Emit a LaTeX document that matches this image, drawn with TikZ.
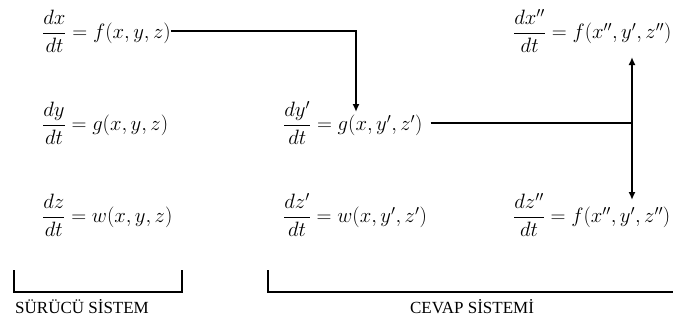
\documentclass[tikz,border=0pt]{standalone}
\usepackage{amsmath}
\usepackage{fontspec}
\setmainfont{Liberation Serif}
\usetikzlibrary{arrows.meta}

\tikzset{
  eq/.style={anchor=west, inner sep=0pt, font=\fontsize{21}{25}\selectfont},
  caption/.style={anchor=west, inner sep=0pt, font=\fontsize{17}{20}\selectfont},
  link/.style={line width=1.6pt},
  bracket/.style={line width=2.6pt},
}

\begin{document}
\begin{tikzpicture}[x=1pt, y=-1pt, >={Latex[length=8pt,width=7pt]}]
\useasboundingbox (0,0) rectangle (673,322);
% drive system
\node (drive_x) [eq] at (42,31) {$\dfrac{dx}{dt}=f(x,y,z)$};
\node (drive_y) [eq] at (42,123) {$\dfrac{dy}{dt}=g(x,y,z)$};
\node (drive_z) [eq] at (42,215) {$\dfrac{dz}{dt}=w(x,y,z)$};
% response system
\node (resp_y) [eq] at (283,123) {$\dfrac{dy'}{dt}=g(x,y',z')$};
\node (resp_z) [eq] at (283,215) {$\dfrac{dz'}{dt}=w(x,y',z')$};
\node (resp_x2) [eq] at (513,31) {$\dfrac{dx''}{dt}=f(x'',y',z'')$};
\node (resp_z2) [eq] at (513,215) {$\dfrac{dz''}{dt}=f(x'',y',z'')$};
% arrow ends
\coordinate (gx_tip) at (356,112);
\coordinate (up_tip) at (632,57);
\coordinate (down_tip) at (632,200);
\draw[link,->] (drive_x.east) -| (gx_tip);
\draw[link] ([xshift=8pt]resp_y.east) -- (resp_y.east -| up_tip);
\draw[link,<->] (up_tip) -- (down_tip);
% brackets
\draw[bracket] (14,270) |- (182,292) -- (182,270);
\draw[bracket] (268,270) |- (680,292);
\node (drive_label) [caption] at (15,307) {SÜRÜCÜ SİSTEM};
\node (resp_label) [caption, anchor=center] at (472,307) {CEVAP SİSTEMİ};
\end{tikzpicture}
\end{document}
